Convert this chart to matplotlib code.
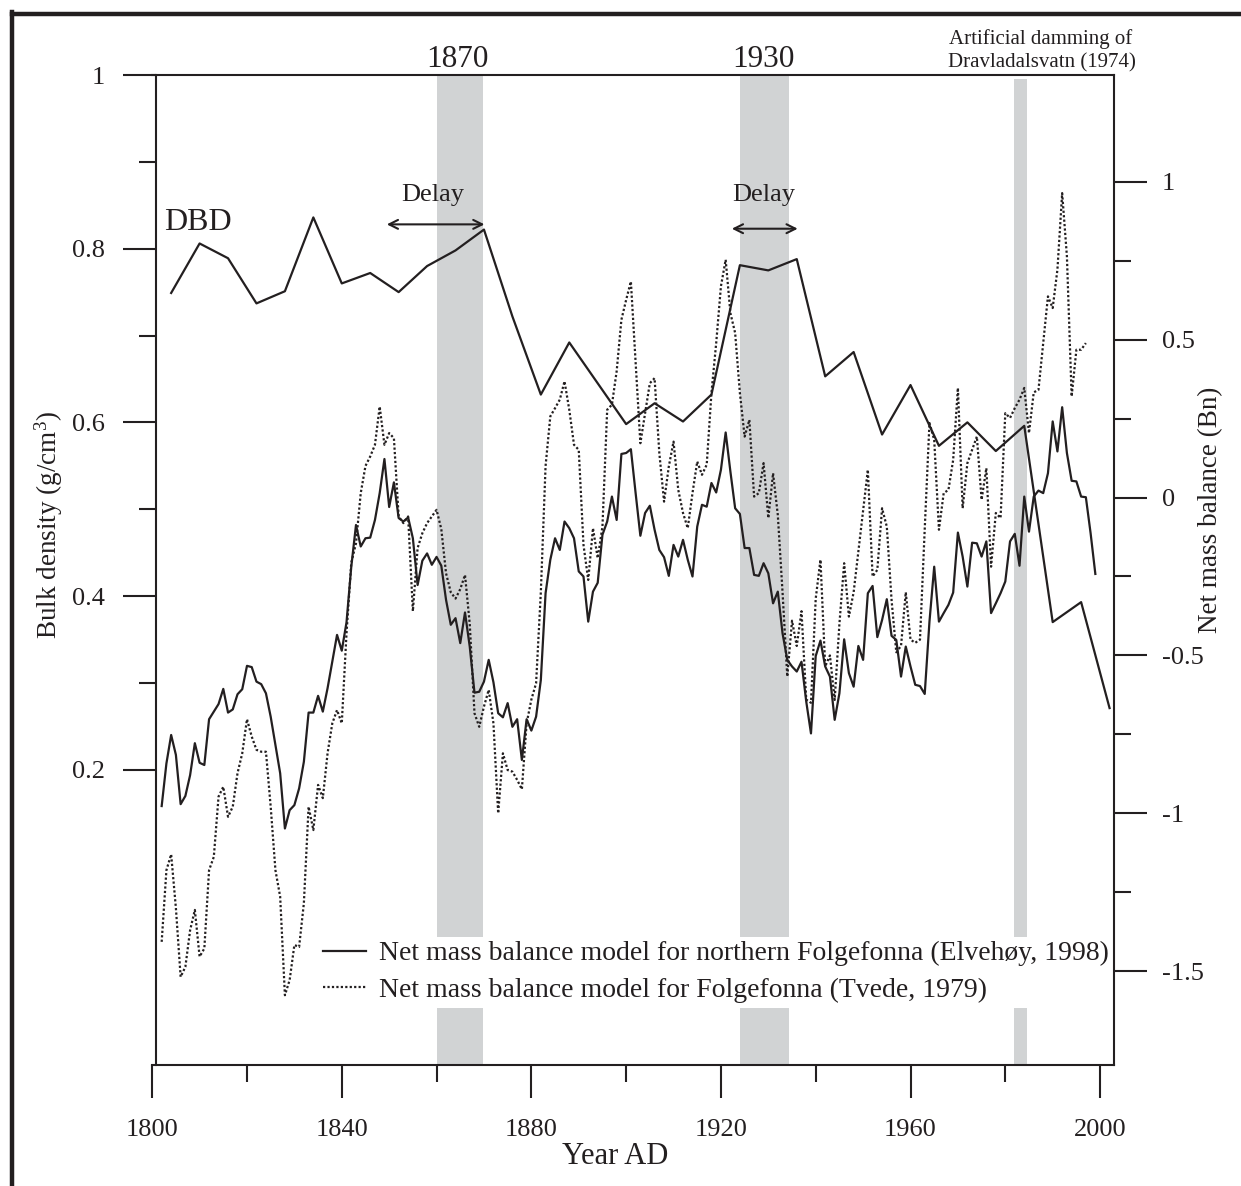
import matplotlib
matplotlib.use("Agg")
import matplotlib.pyplot as plt
from matplotlib.lines import Line2D

plt.rcParams['font.family'] = ['Liberation Serif', 'DejaVu Serif']
plt.rcParams['mathtext.fontset'] = 'custom'
plt.rcParams['mathtext.rm'] = 'Liberation Serif'
plt.rcParams['mathtext.it'] = 'Liberation Serif'

INK = '#231f20'
BAND = '#d1d3d4'

# ---------------- data ----------------
dbd_years = [1804, 1810, 1816, 1822, 1828, 1834, 1840, 1846, 1852, 1858, 1864, 1870,
             1876, 1882, 1888, 1894, 1900, 1906, 1912, 1918, 1924, 1930, 1936, 1942,
             1948, 1954, 1960, 1966, 1972, 1978, 1984, 1990, 1996, 2002]
dbd_values = [0.749, 0.806, 0.789, 0.737, 0.751, 0.836, 0.760, 0.772, 0.750, 0.780, 0.798, 0.822,
              0.722, 0.632, 0.692, 0.645, 0.598, 0.622, 0.601, 0.632, 0.781, 0.775, 0.788, 0.653,
              0.681, 0.586, 0.643, 0.573, 0.600, 0.567, 0.596, 0.370, 0.393, 0.271]

elvehoy_years = list(range(1802, 2000))
elvehoy_values = [
    -0.977, -0.842, -0.752, -0.815, -0.971, -0.945, -0.879, -0.778, -0.840, -0.847,
    -0.702, -0.678, -0.654, -0.606, -0.681, -0.671, -0.623, -0.607, -0.533, -0.537,
    -0.583, -0.591, -0.620, -0.694, -0.784, -0.873, -1.048, -0.990, -0.974, -0.921,
    -0.837, -0.681, -0.681, -0.628, -0.678, -0.604, -0.520, -0.435, -0.485, -0.395,
    -0.220, -0.087, -0.155, -0.129, -0.127, -0.071, 0.014, 0.122, -0.030, 0.048,
    -0.065, -0.076, -0.063, -0.129, -0.277, -0.200, -0.177, -0.213, -0.188, -0.216,
    -0.324, -0.403, -0.382, -0.461, -0.364, -0.472, -0.618, -0.615, -0.583, -0.514,
    -0.585, -0.683, -0.696, -0.651, -0.726, -0.702, -0.831, -0.702, -0.738, -0.694,
    -0.578, -0.303, -0.197, -0.129, -0.166, -0.076, -0.097, -0.129, -0.234, -0.250,
    -0.393, -0.298, -0.270, -0.118, -0.076, 0.003, -0.071, 0.138, 0.141, 0.153,
    0.014, -0.121, -0.049, -0.026, -0.102, -0.166, -0.189, -0.248, -0.150, -0.187,
    -0.134, -0.197, -0.250, -0.092, -0.023, -0.029, 0.046, 0.016, 0.088, 0.206,
    0.082, -0.034, -0.052, -0.160, -0.160, -0.245, -0.248, -0.208, -0.240, -0.335,
    -0.298, -0.430, -0.514, -0.535, -0.551, -0.520, -0.646, -0.747, -0.502, -0.453,
    -0.535, -0.567, -0.704, -0.620, -0.449, -0.556, -0.599, -0.470, -0.514, -0.303,
    -0.280, -0.442, -0.388, -0.322, -0.438, -0.451, -0.567, -0.472, -0.535, -0.593,
    -0.597, -0.622, -0.393, -0.219, -0.393, -0.366, -0.340, -0.301, -0.111, -0.187,
    -0.282, -0.143, -0.145, -0.187, -0.139, -0.366, -0.335, -0.303, -0.266, -0.139,
    -0.115, -0.216, 0.003, -0.108, 0.003, 0.022, 0.014, 0.077, 0.241, 0.146,
    0.286, 0.141, 0.053, 0.051, 0.003, 0.001, -0.113, -0.242]

tvede_years = list(range(1802, 1998))
tvede_values = [
    -1.407, -1.180, -1.130, -1.300, -1.518, -1.486, -1.370, -1.306, -1.454, -1.428,
    -1.180, -1.138, -0.947, -0.916, -1.011, -0.979, -0.873, -0.810, -0.702, -0.757,
    -0.799, -0.805, -0.805, -0.979, -1.180, -1.264, -1.576, -1.528, -1.417, -1.423,
    -1.285, -0.979, -1.053, -0.910, -0.952, -0.810, -0.715, -0.673, -0.715, -0.430,
    -0.207, -0.145, 0.014, 0.100, 0.130, 0.167, 0.288, 0.167, 0.204, 0.188,
    -0.060, -0.081, -0.060, -0.360, -0.160, -0.113, -0.081, -0.060, -0.039, -0.100,
    -0.240, -0.300, -0.320, -0.290, -0.245, -0.400, -0.683, -0.726, -0.662, -0.609,
    -0.715, -1.000, -0.810, -0.863, -0.868, -0.894, -0.924, -0.715, -0.640, -0.588,
    -0.300, 0.100, 0.257, 0.283, 0.310, 0.368, 0.278, 0.167, 0.151, -0.150,
    -0.261, -0.097, -0.192, -0.092, 0.278, 0.294, 0.400, 0.563, 0.626, 0.684,
    0.426, 0.172, 0.267, 0.362, 0.378, 0.141, -0.013, 0.098, 0.177, 0.024,
    -0.049, -0.097, 0.014, 0.114, 0.072, 0.104, 0.331, 0.489, 0.669, 0.753,
    0.584, 0.521, 0.331, 0.193, 0.246, 0.003, 0.014, 0.109, -0.065, 0.077,
    -0.055, -0.300, -0.567, -0.390, -0.470, -0.360, -0.640, -0.650, -0.320, -0.197,
    -0.535, -0.500, -0.641, -0.400, -0.208, -0.377, -0.300, -0.170, -0.040, 0.088,
    -0.250, -0.229, -0.034, -0.092, -0.324, -0.490, -0.470, -0.300, -0.450, -0.460,
    -0.450, -0.100, 0.236, 0.183, -0.102, 0.014, 0.024, 0.119, 0.347, -0.034,
    0.109, 0.151, 0.193, -0.007, 0.093, -0.219, -0.049, -0.065, 0.267, 0.252,
    0.283, 0.310, 0.347, 0.204, 0.333, 0.341, 0.489, 0.637, 0.600, 0.722,
    0.964, 0.764, 0.320, 0.468, 0.468, 0.489]

band_starts = [1860, 1924.1, 1981.9]
band_ends = [1869.8, 1934.3, 1984.6]

x_ticks = [1800, 1840, 1880, 1920, 1960, 2000]
x_minor = [1820, 1860, 1900, 1940, 1980]
left_ticks = [0.2, 0.4, 0.6, 0.8, 1.0]
left_labels = ['0.2', '0.4', '0.6', '0.8', '1']
left_minor = [0.3, 0.5, 0.7, 0.9]
right_ticks = [1, 0.5, 0, -0.5, -1, -1.5]
right_labels = ['1', '0.5', '0', '-0.5', '-1', '-1.5']
right_minor = [0.75, 0.25, -0.25, -0.75, -1.25]

label_elvehoy = 'Net mass balance model for northern Folgefonna (Elvehøy, 1998)'
label_tvede = 'Net mass balance model for Folgefonna (Tvede, 1979)'

# ---------------- figure ----------------
W, H = 1241, 1186
fig = plt.figure(figsize=(W / 100, H / 100), dpi=100)
ax = fig.add_axes([152.2 / W, 1 - 1065 / H, (1114.3 - 152.2) / W, (1065 - 75) / H])
ax.set_xlim(1800, 2003)
ax.set_ylim(-0.14, 1.0)

# frame lines around the figure (left and top)
fig.add_artist(Line2D([12 / W, 12 / W], [0, 1 - 12 / H], transform=fig.transFigure,
                      color=INK, lw=3.2, solid_capstyle='projecting'))
fig.add_artist(Line2D([12 / W, 1], [1 - 13.5 / H, 1 - 13.5 / H], transform=fig.transFigure,
                      color=INK, lw=3.2, solid_capstyle='projecting'))

# shaded bands, interrupted by the legend area
leg_lo, leg_hi = (1065 - 1008) / 990, (1065 - 937) / 990
for i, (s, e) in enumerate(zip(band_starts, band_ends)):
    top = 0.996 if i == 2 else 1.0
    ax.axvspan(s, e, ymin=0, ymax=leg_lo, color=BAND, lw=0, zorder=0)
    ax.axvspan(s, e, ymin=leg_hi, ymax=top, color=BAND, lw=0, zorder=0)

# DBD curve (left axis)
ax.plot(dbd_years, dbd_values, color=INK, lw=1.6, zorder=3)

ax2 = ax.twinx()
ax2.set_ylim(-1.797, 1.338)
l1, = ax2.plot(elvehoy_years, elvehoy_values, color=INK, lw=1.6, zorder=3)
l2, = ax2.plot(tvede_years, tvede_values, color=INK, lw=1.6, ls=(0, (1, 1)), zorder=2)

# spines
ax.spines['right'].set_visible(False)
for sp in ['left', 'top', 'bottom']:
    ax2.spines[sp].set_visible(False)
for sp in ['left', 'top', 'bottom']:
    ax.spines[sp].set_linewidth(1.5)
    ax.spines[sp].set_color(INK)
ax2.spines['right'].set_linewidth(1.5)
ax2.spines['right'].set_color(INK)
ax.spines['left'].set_position(('data', 1800.85))

# ticks
ax.set_xticks(x_ticks)
ax.set_xticks(x_minor, minor=True)
ax.set_xticklabels([str(t) for t in x_ticks])
ax.set_yticks(left_ticks)
ax.set_yticklabels(left_labels)
ax.set_yticks(left_minor, minor=True)
ax2.set_yticks(right_ticks)
ax2.set_yticklabels(right_labels)
ax2.set_yticks(right_minor, minor=True)

ax.tick_params(axis='x', which='major', direction='out', length=24, width=1.5,
               color=INK, labelsize=19, pad=15, labelcolor=INK)
ax.tick_params(axis='x', which='minor', direction='out', length=12, width=1.5, color=INK)
ax.tick_params(axis='y', which='major', direction='out', length=24, width=1.5,
               color=INK, labelsize=19, pad=13, labelcolor=INK, right=False)
ax.tick_params(axis='y', which='minor', direction='out', length=12, width=1.5, color=INK,
               right=False)
ax2.tick_params(axis='y', which='major', direction='out', length=24, width=1.5,
                color=INK, labelsize=19, pad=10, labelcolor=INK)
ax2.tick_params(axis='y', which='minor', direction='out', length=12, width=1.5, color=INK)

# axis labels
ax.set_xlabel('Year AD', fontsize=22, color=INK)
ax.xaxis.set_label_coords((615.5 - 152.2) / 962.1, (1065 - 1142) / 990)
ax.set_ylabel('Bulk density (g/cm$^{3}$)', fontsize=19.5, color=INK, va='center')
ax.yaxis.set_label_coords((49 - 152.2) / 962.1, (1065 - 525) / 990)
ax2.set_ylabel('Net mass balance (Bn)', fontsize=19.5, color=INK, va='center', rotation=90)
ax2.yaxis.set_label_coords((1211 - 152.2) / 962.1, (1065 - 510) / 990)

# annotations
ax.text(1802.5, 0.822, 'DBD', fontsize=23, color=INK, ha='left', va='baseline')
ax.text(1859.2, 0.855, 'Delay', fontsize=19, color=INK, ha='center', va='baseline')
ax.text(1929.1, 0.855, 'Delay', fontsize=19, color=INK, ha='center', va='baseline')
ax.annotate('', xy=(1849.5, 0.828), xytext=(1870.1, 0.828),
            arrowprops=dict(arrowstyle='<->', color=INK, lw=1.5, mutation_scale=16,
                            shrinkA=0, shrinkB=0))
ax.annotate('', xy=(1922.3, 0.823), xytext=(1936.2, 0.823),
            arrowprops=dict(arrowstyle='<->', color=INK, lw=1.5, mutation_scale=16,
                            shrinkA=0, shrinkB=0))
ax.text(1864.5, 1.0088, '1870', fontsize=22.5, color=INK, ha='center', va='baseline',
        clip_on=False)
ax.text(1929.0, 1.0088, '1930', fontsize=22.5, color=INK, ha='center', va='baseline',
        clip_on=False)
ax.text(1987.5, 1.0355, 'Artificial damming of', fontsize=15, color=INK, ha='center',
        va='baseline', clip_on=False)
ax.text(1987.7, 1.009, 'Dravladalsvatn (1974)', fontsize=15, color=INK, ha='center',
        va='baseline', clip_on=False)

# legend
leg = ax2.legend([l1, l2], [label_elvehoy, label_tvede], loc='upper left',
                 bbox_to_anchor=((323 - 152.2) / 962.1, (1065 - 941) / 990), frameon=False,
                 fontsize=20, handlelength=1.55, handletextpad=0.45, labelspacing=0.4,
                 borderpad=0, borderaxespad=0)
for t in leg.get_texts():
    t.set_color(INK)

fig.savefig('out.png', dpi=100)
